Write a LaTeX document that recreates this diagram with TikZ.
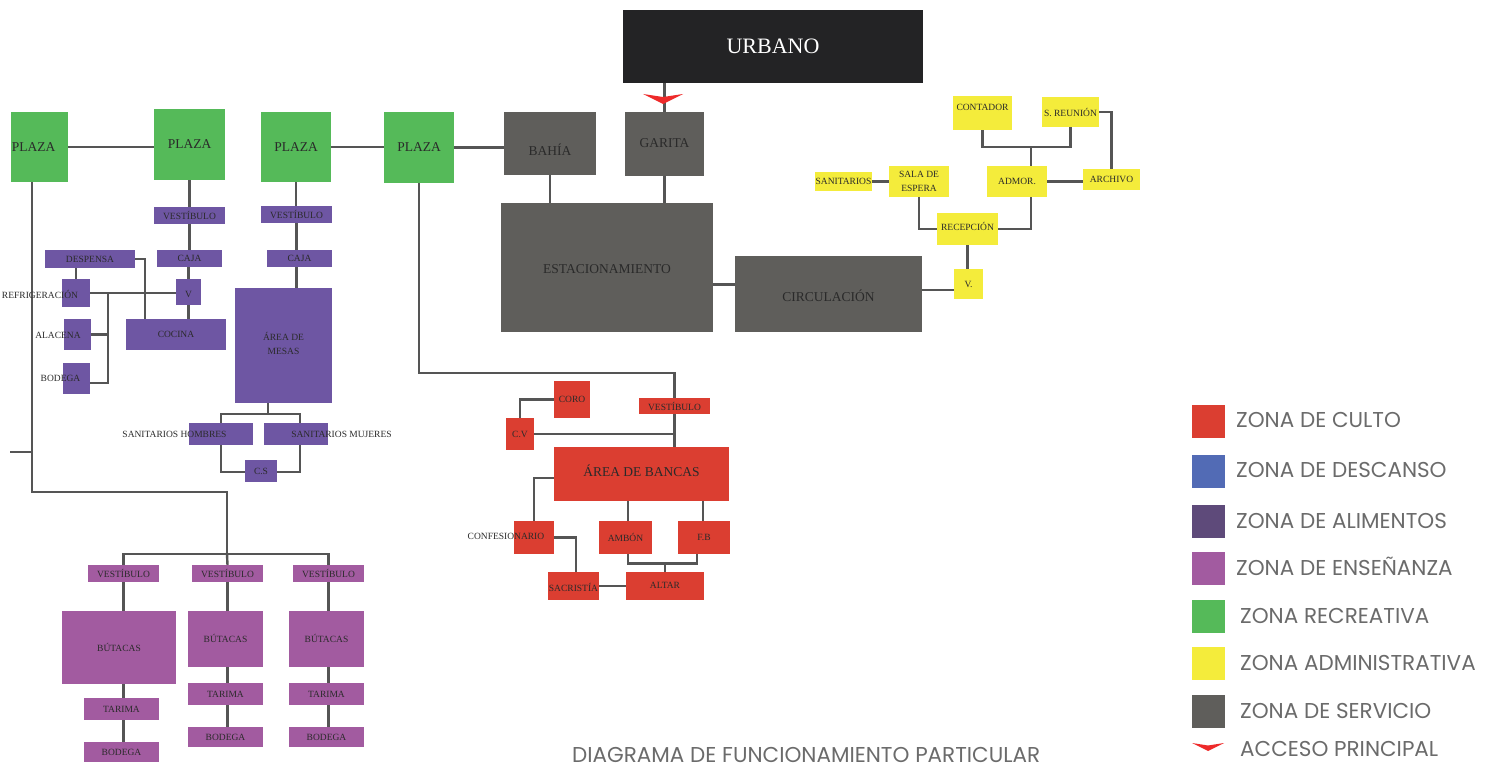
\documentclass[tikz,border=0pt]{standalone}
\usepackage{fontspec}
\setmainfont{Liberation Serif}
\newfontfamily\legfont{Poppins}
\pgfdeclarelayer{back}
\pgfdeclarelayer{bg}
\pgfsetlayers{back,bg,main}
\definecolor{cred}{HTML}{DB3E31}
\definecolor{cblue}{HTML}{526BB5}
\definecolor{calim}{HTML}{5E4A7A}
\definecolor{cpur}{HTML}{6E56A3}
\definecolor{cens}{HTML}{A25BA0}
\definecolor{cgrn}{HTML}{55BA59}
\definecolor{cyel}{HTML}{F4EC3B}
\definecolor{cgry}{HTML}{5F5E5B}
\definecolor{curb}{HTML}{232325}
\definecolor{lnc}{HTML}{555555}
\definecolor{txc}{HTML}{2A2A2A}
\definecolor{legt}{HTML}{6B6B6B}
\definecolor{accred}{HTML}{EE2A2A}
\newcommand\midf{\fontsize{13.5}{16}\selectfont}
\tikzset{
  zb/.style={draw=none,inner sep=0pt,outer sep=0pt},
  zt/.style={inner sep=0pt,text=txc,align=center,font=\fontsize{9.5}{11}\selectfont},
  ln/.style={draw=lnc,line width=2.4pt,line cap=rect},
  sw/.style={draw=none,inner sep=0pt,minimum width=33pt,minimum height=33pt},
  lt/.style={inner sep=0pt,text=legt,font=\legfont\fontsize{21.5}{24}\selectfont,anchor=base west},
}
% [text shift]{name}{cx}{cy}{w}{h}{fill}{text}
\newcommand\zbox[8][0,0]{%
  \node[zb,fill=#7,minimum width=#5pt,minimum height=#6pt] (#2) at (#3,#4) {};
  \node[zt] (#2-t) at ([shift={(#1)}]#2.center) {#8};}
\begin{document}
\begin{tikzpicture}[x=1pt,y=-1pt]
\useasboundingbox (0,0) rectangle (1488,765);
\begin{pgfonlayer}{back}
\fill[white] (0,0) rectangle (1488,765);
\end{pgfonlayer}

% ---------- service / recreation ----------
\zbox{urb}{773}{46.5}{300}{73}{curb}{\fontsize{22}{25}\selectfont\color{white}URBANO}
\zbox[-6,0]{p1}{39.5}{147}{57}{70}{cgrn}{\midf PLAZA}
\zbox{p2}{189.5}{144.5}{71}{71}{cgrn}{\midf PLAZA}
\zbox{p3}{296}{147}{70}{70}{cgrn}{\midf PLAZA}
\zbox{p4}{419}{147.5}{70}{71}{cgrn}{\midf PLAZA}
\zbox[0,6]{bah}{550}{143.5}{92}{63}{cgry}{\midf BAHÍA}
\zbox[0,-1]{gar}{664.5}{144}{79}{64}{cgry}{\midf GARITA}
\zbox[0,1.5]{est}{607}{267.5}{212}{129}{cgry}{\midf ESTACIONAMIENTO}
\zbox[0,1.5]{circ}{828.5}{294}{187}{76}{cgry}{\midf CIRCULACIÓN}

% ---------- administration ----------
\zbox[0,-6]{cont}{982.5}{113}{59}{34}{cyel}{CONTADOR}
\zbox{sreu}{1070.5}{112}{57}{30}{cyel}{S. REUNIÓN}
\zbox{sani}{843.5}{181.5}{57}{19}{cyel}{SANITARIOS}
\zbox{sala}{919}{181.5}{60}{31}{cyel}{SALA DE\\[3pt]ESPERA}
\zbox{admor}{1017}{181.5}{60}{31}{cyel}{ADMOR.}
\zbox{arch}{1111.5}{179.5}{57}{21}{cyel}{ARCHIVO}
\zbox[0,-3]{recep}{967.5}{229}{61}{32}{cyel}{RECEPCIÓN}
\zbox{vy}{968.5}{284}{29}{30}{cyel}{V.}

% ---------- food ----------
\zbox{ve1}{189.5}{215.5}{71}{17}{cpur}{VESTÍBULO}
\zbox{ca1}{189.5}{258.5}{65}{17}{cpur}{CAJA}
\zbox[0,2]{v1}{188.5}{292}{25}{26}{cpur}{V}
\zbox{coc}{176}{334.5}{100}{31}{cpur}{COCINA}
\zbox{desp}{90}{259}{90}{18}{cpur}{DESPENSA}
\zbox[-36,1]{refr}{76}{293}{28}{28}{cpur}{REFRIGERACIÓN}
\zbox[-19.5,1]{alac}{77.5}{334.5}{27}{31}{cpur}{ALACENA}
\zbox[-16,0]{bod}{76.5}{378.5}{27}{31}{cpur}{BODEGA}
\zbox{ve2}{296.5}{214.5}{71}{17}{cpur}{VESTÍBULO}
\zbox{ca2}{299.5}{258.5}{65}{17}{cpur}{CAJA}
\zbox[0,-2]{mes}{283.5}{345.5}{97}{115}{cpur}{ÁREA DE\\[3pt]MESAS}
\zbox[-46.5,0]{sh}{221}{434}{64}{22}{cpur}{SANITARIOS HOMBRES}
\zbox[45.5,0]{sm}{296}{434}{64}{22}{cpur}{SANITARIOS MUJERES}
\zbox{cs}{261}{471}{32}{22}{cpur}{C.S}

% ---------- teaching ----------
\zbox{va}{123.5}{573.5}{71}{17}{cens}{VESTÍBULO}
\zbox{vb}{227.5}{573.5}{71}{17}{cens}{VESTÍBULO}
\zbox{vc}{328.5}{573.5}{71}{17}{cens}{VESTÍBULO}
\zbox{ba}{119}{647.5}{114}{73}{cens}{BÚTACAS}
\zbox[0,-1]{bb}{225.5}{639}{75}{56}{cens}{BÚTACAS}
\zbox[0,-1]{bc}{326.5}{639}{75}{56}{cens}{BÚTACAS}
\zbox{ta}{121.5}{709}{75}{22}{cens}{TARIMA}
\zbox{tb}{225.5}{694}{75}{22}{cens}{TARIMA}
\zbox{tc}{326.5}{694}{75}{22}{cens}{TARIMA}
\zbox{oa}{121.5}{752}{75}{20}{cens}{BODEGA}
\zbox{ob}{225.5}{737}{75}{20}{cens}{BODEGA}
\zbox{oc}{326.5}{737}{75}{20}{cens}{BODEGA}

% ---------- worship ----------
\zbox{rv}{674.5}{406}{71}{16}{cred}{VESTÍBULO}
\zbox{coro}{572}{399.5}{36}{37}{cred}{CORO}
\zbox{cv}{520}{434}{28}{32}{cred}{C.V}
\zbox[0,-3]{banc}{641.5}{474}{175}{54}{cred}{\midf ÁREA DE BANCAS}
\zbox[-28,-1.5]{conf}{534}{537.5}{40}{33}{cred}{CONFESIONARIO}
\zbox[0,1.5]{sacr}{573.5}{586}{51}{28}{cred}{SACRISTÍA}
\zbox[0,-1]{alt}{665}{586}{78}{28}{cred}{ALTAR}
\zbox{amb}{625.5}{537.5}{53}{33}{cred}{AMBÓN}
\zbox{fb}{704}{537.5}{52}{33}{cred}{F.B}

% access arrow
\fill[accred] (643,94) -- (663,97) -- (683,94) -- (663,104) -- cycle;

\coordinate (ej) at (227,554);
\coordinate (stub) at (11,452);
\coordinate (rc) at (674.5,373);

\begin{pgfonlayer}{bg}
% plazas and service
\draw[ln] (p1.east) -- (p1.east -| p2.west);
\draw[ln] (p3.east) -- (p3.east -| p4.west);
\draw[ln] (p4.east) -- (p4.east -| bah.west);
\draw[ln] (gar.north) -- (gar.north |- urb.south);
\draw[ln] (bah.south) -- (bah.south |- est.north);
\draw[ln] (gar.south) -- (gar.south |- est.north);
\draw[ln] ([yshift=-17pt]est.east) -- ([yshift=-17pt]est.east -| circ.west);
\draw[ln] ([yshift=-6pt]vy.west) -- ([yshift=-6pt]vy.west -| circ.east);
% administration
\draw[ln] (cont.south) -- ++(0,17) -| (sreu.south);
\draw[ln] ([xshift=14pt]admor.north) -- ++(0,-19);
\draw[ln] (sreu.east) -| (arch.north);
\draw[ln] (admor.east) -- (admor.east -| arch.west);
\draw[ln] (sani.east) -- (sani.east -| sala.west);
\draw[ln] (sala.south) |- (recep.west);
\draw[ln] (recep.east) -| ([xshift=14pt]admor.south);
\draw[ln] (recep.south) -- (recep.south |- vy.north);
% food
\draw[ln] (ve1.north |- p2.south) -- (ve1.north);
\draw[ln] (ve1.south) -- (ve1.south |- ca1.north);
\draw[ln] (ca1.south -| v1.north) -- (v1.north);
\draw[ln] (v1.south) -- (v1.south |- coc.north);
\draw[ln] (refr.east) -- (refr.east -| v1.west);
\draw[ln] (desp.east) -- ++(10,0) coordinate (dk) -- (dk |- coc.north);
\draw[ln] (refr.north) -- (refr.north |- desp.south);
\draw[ln] ([xshift=18pt]refr.east) |- ([yshift=-4.5pt]bod.east);
\draw[ln] (alac.east) -- ++(17,0);
\draw[ln] (p3.south) -- (p3.south |- ve2.north);
\draw[ln] (ve2.south) -- (ve2.south |- ca2.north);
\draw[ln] (ve2.south |- ca2.south) -- (ve2.south |- mes.north);
\draw[ln] ([xshift=-15.5pt]mes.south) -- ++(0,11) coordinate (mj);
\draw[ln] (sh.north) |- (mj) -| ([xshift=4pt]sm.north);
\draw[ln] (sh.south) |- ([yshift=-1pt]cs.west);
\draw[ln] ([xshift=4pt]sm.south) |- ([yshift=-1pt]cs.east);
% teaching
\draw[ln] ([xshift=-7.5pt]p1.south) -- ++(0,310) coordinate (lc) -| (ej);
\draw[ln] (stub) -- (stub -| lc);
\draw[ln] (va.north) -- ++(0,-11) -| (vc.north);
\draw[ln] (vb.north) -- (ej);
\draw[ln] (va.south) -- (va.south |- ba.north);
\draw[ln] (va.south |- ba.south) -- (va.south |- ta.north);
\draw[ln] (va.south |- ta.south) -- (va.south |- oa.north);
\draw[ln] (vb.south) -- (vb.south |- bb.north);
\draw[ln] (vb.south |- bb.south) -- (vb.south |- tb.north);
\draw[ln] (vb.south |- tb.south) -- (vb.south |- ob.north);
\draw[ln] (vc.south) -- (vc.south |- bc.north);
\draw[ln] (vc.south |- bc.south) -- (vc.south |- tc.north);
\draw[ln] (vc.south |- tc.south) -- (vc.south |- oc.north);
% worship
\draw[ln] (p4.south) |- (rc) -- (rv.north);
\draw[ln] (rv.south) -- (rv.south |- banc.north);
\draw[ln] (cv.east) -- (cv.east -| rv.south);
\draw[ln] (cv.north) |- (coro.west);
\draw[ln] ([yshift=-4pt]banc.west) -| (conf.north);
\draw[ln] (conf.east) -| ([xshift=2.5pt]sacr.north);
\draw[ln] (sacr.east) -- (sacr.east -| alt.west);
\draw[ln] ([xshift=2.5pt]amb.north) -- ([xshift=2.5pt]amb.north |- banc.south);
\draw[ln] ([xshift=-1pt]fb.north) -- ([xshift=-1pt]fb.north |- banc.south);
\draw[ln] ([xshift=2.5pt]amb.south) -- ++(0,9.5) -| ([xshift=-7pt]fb.south);
\draw[ln] (alt.north) -- ++(0,-9);
\end{pgfonlayer}

% ---------- legend ----------
\node[sw,fill=cred]  (l1) at (1208,421.5) {};
\node[sw,fill=cblue] (l2) at (1208,471.5) {};
\node[sw,fill=calim] (l3) at (1208,521.5) {};
\node[sw,fill=cens]  (l4) at (1208,568.5) {};
\node[sw,fill=cgrn]  (l5) at (1208,616.5) {};
\node[sw,fill=cyel]  (l6) at (1208,663.5) {};
\node[sw,fill=cgry]  (l7) at (1208,711.5) {};
\fill[accred] (1192,743) -- (1208,745.5) -- (1224,743) -- (1208,751) -- cycle;
\node[lt] (l1-t) at (1236,427.5) {ZONA DE CULTO};
\node[lt] (l2-t) at (1236,477.5) {ZONA DE DESCANSO};
\node[lt] (l3-t) at (1236,528.5) {ZONA DE ALIMENTOS};
\node[lt] (l4-t) at (1236,575.5) {ZONA DE ENSEÑANZA};
\node[lt] (l5-t) at (1240,623.5) {ZONA RECREATIVA};
\node[lt] (l6-t) at (1240,670.5) {ZONA ADMINISTRATIVA};
\node[lt] (l7-t) at (1240,718.5) {ZONA DE SERVICIO};
\node[lt] (l8-t) at (1240,756.5) {ACCESO PRINCIPAL};
\node[lt] (title) at (572,762) {DIAGRAMA DE FUNCIONAMIENTO PARTICULAR};
\end{tikzpicture}
\end{document}
